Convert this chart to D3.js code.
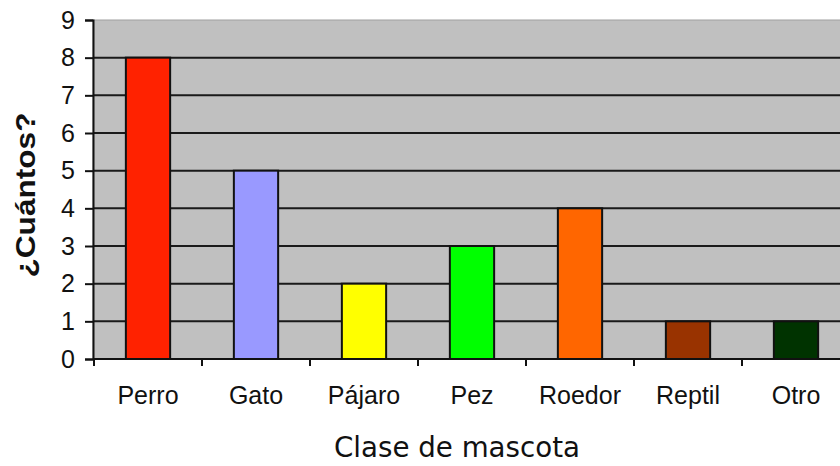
<!DOCTYPE html>
<html>
<head>
<meta charset="utf-8">
<script src="https://cdn.jsdelivr.net/npm/d3@7"></script>
<style>
  html, body { margin: 0; padding: 0; background: #fff; }
  svg { display: block; }
  .tick text { fill: #111; }
</style>
</head>
<body>
<svg id="chart" width="840" height="466"></svg>
<script>
'use strict';

const categories = ['Perro', 'Gato', 'Pájaro', 'Pez', 'Roedor', 'Reptil', 'Otro'];
const counts = [8, 5, 2, 3, 4, 1, 1];
const bar_colors = ['#ff2200', '#9999ff', '#ffff00', '#00ff00', '#ff6600', '#993300', '#003300'];
const y_ticks = [0, 1, 2, 3, 4, 5, 6, 7, 8, 9];
const x_title = 'Clase de mascota';
const y_title = '¿Cuántos?';

const svg = d3.select('#chart');

// plot area runs off the right edge of the picture, like the reference
const plot_left = 93, plot_right = 850, plot_top = 20, plot_bottom = 359;

const x = d3.scaleBand().domain(categories).range([plot_left + 1, plot_right]).padding(0);
const y = d3.scaleLinear().domain([0, 9]).range([plot_bottom, plot_top]);

const bar_w = x.bandwidth() * 0.41;

// background
svg.append('rect')
    .attr('x', plot_left).attr('y', plot_top)
    .attr('width', plot_right - plot_left).attr('height', plot_bottom - plot_top)
    .attr('fill', '#c0c0c0')
    .attr('stroke', '#a0a0a0')
    .attr('stroke-width', 1);

// gridlines
svg.append('g')
    .selectAll('line')
    .data(y_ticks.filter(d => d > 0 && d < 9))
    .join('line')
    .attr('x1', plot_left).attr('x2', plot_right)
    .attr('y1', d => y(d)).attr('y2', d => y(d))
    .attr('stroke', '#1a1a1a')
    .attr('stroke-width', 2);

// bars
svg.append('g')
    .selectAll('rect')
    .data(categories)
    .join('rect')
    .attr('x', d => x(d) + (x.bandwidth() - bar_w) / 2)
    .attr('y', (d, i) => y(counts[i]))
    .attr('width', bar_w)
    .attr('height', (d, i) => y(0) - y(counts[i]))
    .attr('fill', (d, i) => bar_colors[i])
    .attr('stroke', '#111')
    .attr('stroke-width', 2);

// y axis
const y_axis = svg.append('g')
    .attr('transform', `translate(${plot_left},0)`)
    .call(d3.axisLeft(y).tickValues(y_ticks).tickFormat(d3.format('d')).tickSize(8).tickPadding(10));

y_axis.select('.domain').attr('stroke', '#111').attr('stroke-width', 2);
y_axis.selectAll('.tick line').attr('stroke', '#111').attr('stroke-width', 2);
y_axis.selectAll('.tick text')
    .attr('font-family', '"Liberation Sans", Arial, sans-serif')
    .attr('font-size', 25);

// x axis: ticks sit on the band boundaries, labels at band centres
const x_axis = svg.append('g')
    .attr('transform', `translate(0,${plot_bottom})`);

x_axis.append('line')
    .attr('x1', plot_left).attr('x2', plot_right)
    .attr('stroke', '#111').attr('stroke-width', 2);

x_axis.selectAll('.x-tick')
    .data(categories)
    .join('line')
    .attr('class', 'x-tick')
    .attr('x1', d => x(d)).attr('x2', d => x(d))
    .attr('y1', 0).attr('y2', 7)
    .attr('stroke', '#111').attr('stroke-width', 2);

x_axis.selectAll('.x-label')
    .data(categories)
    .join('text')
    .attr('class', 'x-label')
    .attr('x', d => x(d) + x.bandwidth() / 2)
    .attr('y', 45)
    .attr('text-anchor', 'middle')
    .attr('fill', '#111')
    .attr('font-family', '"Liberation Sans", Arial, sans-serif')
    .attr('font-size', 25)
    .text(d => d);

// axis titles
svg.append('text')
    .attr('x', 457)
    .attr('y', 457)
    .attr('text-anchor', 'middle')
    .attr('fill', '#111')
    .attr('font-family', '"DejaVu Sans", Verdana, sans-serif')
    .attr('font-size', 29)
    .attr('textLength', 246)
    .attr('lengthAdjust', 'spacingAndGlyphs')
    .text(x_title);

svg.append('text')
    .attr('transform', 'translate(35,195) rotate(-90)')
    .attr('text-anchor', 'middle')
    .attr('fill', '#111')
    .attr('font-family', '"Liberation Sans", Arial, sans-serif')
    .attr('font-weight', 'bold')
    .attr('font-size', 28)
    .attr('textLength', 165)
    .attr('lengthAdjust', 'spacingAndGlyphs')
    .text(y_title);
</script>
</body>
</html>
